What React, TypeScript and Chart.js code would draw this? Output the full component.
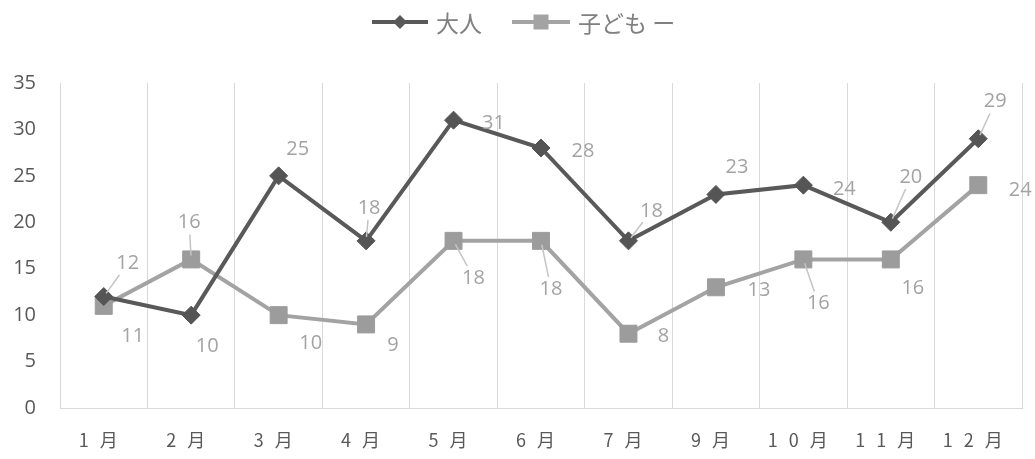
import React, { useEffect, useRef } from "react";
import { Chart, registerables } from "chart.js";

Chart.register(...registerables);

const categories = ["1月", "2月", "3月", "4月", "5月", "6月", "7月", "9月", "10月", "11月", "12月"];
const seriesNames = ["大人", "子ども ー"];
const adultValues = [12, 10, 25, 18, 31, 28, 18, 23, 24, 20, 29];
const childValues = [11, 16, 10, 9, 18, 18, 8, 13, 16, 16, 24];
const yTicks = { min: 0, max: 35, step: 5 };

// label placement (offset from the point, px) and whether a leader line is drawn
const adultLabelOffsets = [[24, -33], [16, 31], [19, -27], [3, -33], [40, 3], [42, 3], [23, -30], [21, -27], [41, 4], [20, -45], [17, -37]];
const childLabelOffsets = [[29, 30], [-2, -37], [32, 28], [27, 21], [20, 37], [10, 48], [35, 3], [43, 3], [15, 44], [22, 29], [42, 5]];
const adultLeaders = [true, false, false, true, false, false, true, false, false, true, true];
const childLeaders = [false, true, false, false, true, true, false, false, true, false, false];

const ADULT_COLOR = "#595959";
const CHILD_COLOR = "#a3a3a3";
const LABEL_COLOR = "#a3a3a3";
const AXIS_TEXT = "#595959";
const GRID = "#d9d9d9";
const JP = '"Noto Sans CJK JP", "Noto Sans", sans-serif';
const NUM = '"Open Sans", "Noto Sans", sans-serif';

const labelsPlugin = {
  id: "customLabels",
  afterDatasetsDraw(chart: any) {
    const ctx = chart.ctx;
    const offsets = [adultLabelOffsets, childLabelOffsets];
    const leaders = [adultLeaders, childLeaders];
    ctx.save();
    ctx.font = `20px ${NUM}`;
    ctx.textAlign = "center";
    ctx.textBaseline = "middle";
    chart.data.datasets.forEach((ds: any, di: number) => {
      const meta = chart.getDatasetMeta(di);
      meta.data.forEach((pt: any, i: number) => {
        const [dx, dy] = offsets[di][i];
        const lx = pt.x + dx;
        const ly = pt.y + dy;
        const text = String(ds.data[i]);
        if (leaders[di][i]) {
          const len = Math.hypot(dx, dy);
          const ux = dx / len;
          const uy = dy / len;
          const hw = ctx.measureText(text).width / 2 + 2;
          const hh = 9;
          const r = Math.min(Math.abs(ux) > 1e-6 ? hw / Math.abs(ux) : 1e9, Math.abs(uy) > 1e-6 ? hh / Math.abs(uy) : 1e9);
          const sx = pt.x + ux * 4;
          const sy = pt.y + uy * 4;
          const ex = lx - ux * (r + 3);
          const ey = ly - uy * (r + 3);
          if ((ex - sx) * ux + (ey - sy) * uy > 2) {
            ctx.strokeStyle = "#c4c4c4";
            ctx.lineWidth = 1.5;
            ctx.beginPath();
            ctx.moveTo(sx, sy);
            ctx.lineTo(ex, ey);
            ctx.stroke();
          }
        }
        ctx.fillStyle = LABEL_COLOR;
        ctx.fillText(text, lx, ly);
      });
    });
    ctx.restore();
  },
};

const legendPlugin = {
  id: "customLegend",
  afterDraw(chart: any) {
    const ctx = chart.ctx;
    const y = 22;
    ctx.save();
    ctx.font = `23px ${JP}`;
    ctx.textBaseline = "middle";
    ctx.textAlign = "left";
    // adults
    ctx.strokeStyle = ADULT_COLOR;
    ctx.lineWidth = 4;
    ctx.beginPath();
    ctx.moveTo(372, y);
    ctx.lineTo(428, y);
    ctx.stroke();
    ctx.fillStyle = ADULT_COLOR;
    ctx.beginPath();
    ctx.moveTo(400, y - 7);
    ctx.lineTo(407, y);
    ctx.lineTo(400, y + 7);
    ctx.lineTo(393, y);
    ctx.closePath();
    ctx.fill();
    ctx.fillStyle = "#808080";
    ctx.fillText(seriesNames[0], 436, y + 1);
    // children
    ctx.strokeStyle = CHILD_COLOR;
    ctx.beginPath();
    ctx.moveTo(512, y);
    ctx.lineTo(570, y);
    ctx.stroke();
    ctx.fillStyle = CHILD_COLOR;
    ctx.fillRect(541 - 7.5, y - 7.5, 15, 15);
    ctx.fillStyle = "#808080";
    ctx.fillText(seriesNames[1], 578, y + 1);
    ctx.restore();
  },
};

const spacingPlugin = {
  id: "xLabelSpacing",
  afterLayout(chart: any) {
    const sc = chart.scales.x;
    if (!sc || sc.__wrapped) return;
    const orig = sc.drawLabels.bind(sc);
    sc.drawLabels = (area: any) => {
      const ctx = chart.ctx;
      ctx.save();
      ctx.letterSpacing = "11px";
      orig(area);
      ctx.restore();
    };
    sc.__wrapped = true;
  },
};

export default function App() {
  const ref = useRef<HTMLCanvasElement | null>(null);
  useEffect(() => {
    if (!ref.current) return;
    const chart = new Chart(ref.current, {
      type: "line",
      data: {
        labels: categories,
        datasets: [
          {
            label: seriesNames[0],
            data: adultValues,
            borderColor: ADULT_COLOR,
            backgroundColor: ADULT_COLOR,
            borderWidth: 4,
            pointStyle: "rectRot",
            pointRadius: 9,
            pointBackgroundColor: "#555555",
            pointBorderColor: "#555555",
            pointBorderWidth: 1,
            tension: 0,
          },
          {
            label: seriesNames[1],
            data: childValues,
            borderColor: CHILD_COLOR,
            backgroundColor: CHILD_COLOR,
            borderWidth: 4,
            pointStyle: "rect",
            pointRadius: 12,
            pointBackgroundColor: "#9c9c9c",
            pointBorderColor: "#9c9c9c",
            pointBorderWidth: 1,
            tension: 0,
          },
        ],
      },
      options: {
        responsive: false,
        animation: false,
        events: [],
        layout: { padding: { top: 83, right: 13, bottom: 0, left: 0 } },
        plugins: {
          legend: { display: false },
          tooltip: { enabled: false },
          title: { display: false },
        },
        scales: {
          x: {
            type: "category",
            offset: true,
            grid: { offset: true, color: GRID, lineWidth: 1, drawTicks: false },
            border: { color: GRID, width: 1 },
            ticks: {
              color: AXIS_TEXT,
              font: { family: JP, size: 18 },
              padding: 21,
              maxRotation: 0,
              autoSkip: false,
            },
            afterFit: (s: any) => {
              s.height = 51;
            },
          },
          y: {
            min: yTicks.min,
            max: yTicks.max,
            ticks: { stepSize: yTicks.step, color: AXIS_TEXT, font: { family: NUM, size: 20 }, padding: 16 },
            grid: { display: false },
            border: { display: false },
            afterFit: (s: any) => {
              s.width = 60;
            },
          },
        },
      },
      plugins: [labelsPlugin, legendPlugin, spacingPlugin],
    });
    return () => chart.destroy();
  }, []);
  return (
    <div style={{ position: "fixed", left: 0, top: 0, width: 1035, height: 459, background: "#fff" }}>
      <canvas ref={ref} width={1035} height={459} style={{ width: 1035, height: 459, display: "block" }} />
    </div>
  );
}
